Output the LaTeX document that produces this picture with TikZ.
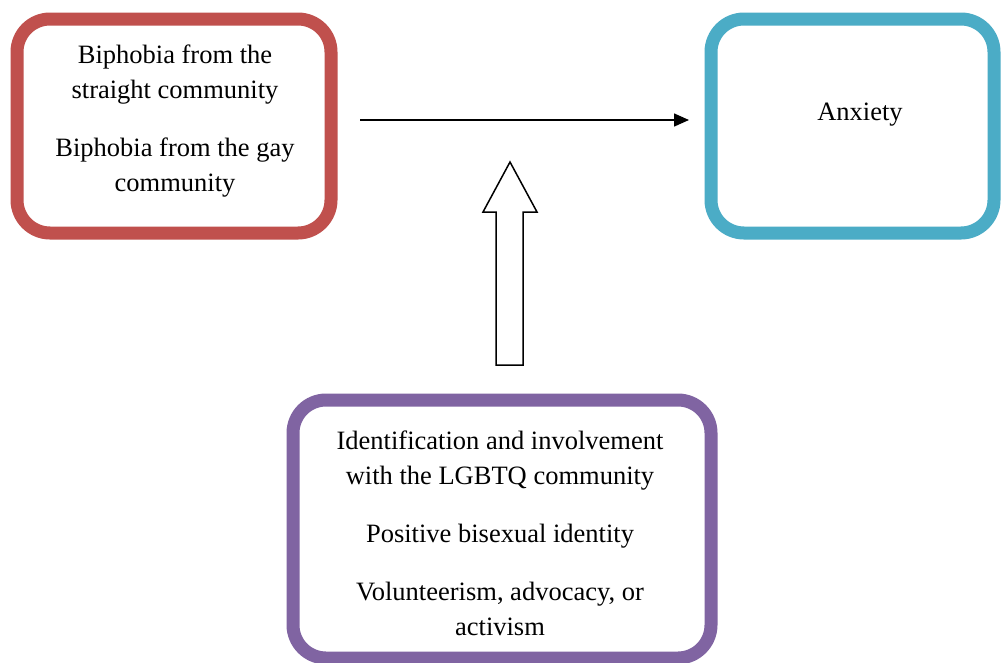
\documentclass[tikz,border=0pt]{standalone}
\usepackage{fontspec}
\setmainfont{Liberation Serif}
\usetikzlibrary{arrows.meta}
\definecolor{boxred}{HTML}{C0504D}
\definecolor{boxblue}{HTML}{4BACC6}
\definecolor{boxpurple}{HTML}{8064A2}
\begin{document}
\begin{tikzpicture}[x=1pt,y=-1pt,
  frame/.style={draw, line width=13pt, rounded corners=33pt, inner sep=0pt, outer sep=0pt, fill=white},
  txt/.style={align=center, font=\fontsize{26.5}{35}\selectfont, inner sep=0pt}]
\useasboundingbox[fill=white] (0,0) rectangle (1001,662);
\node[frame, draw=boxred, minimum width=314pt, minimum height=214pt] (red) at (174,126) {};
\node[frame, draw=boxblue, minimum width=283pt, minimum height=214pt] (blue) at (852.5,126) {};
\node[frame, draw=boxpurple, minimum width=418pt, minimum height=258pt] (purple) at (502,529) {};
\node[txt] (redtext) at (175,121.5) {Biphobia from the\\straight community\\[23pt]Biphobia from the gay\\community};
\node[txt] (bluetext) at (860,115) {Anxiety};
\node[txt] (purpletext) at (500,533) {Identification and involvement\\with the LGBTQ community\\[23pt]Positive bisexual identity\\[23pt]Volunteerism, advocacy, or\\activism};
\coordinate (a1) at (360,120);
\coordinate (a2) at (689,120);
\draw[line width=1.5pt, -{Triangle[length=15pt,width=13pt]}] (a1) -- (a2);
\draw[line width=1.5pt, fill=white, line join=miter]
  (496,365) -- (496,212) -- (483,212) -- (510,162) -- (537,212) -- (523,212) -- (523,365) -- cycle;
\end{tikzpicture}
\end{document}
